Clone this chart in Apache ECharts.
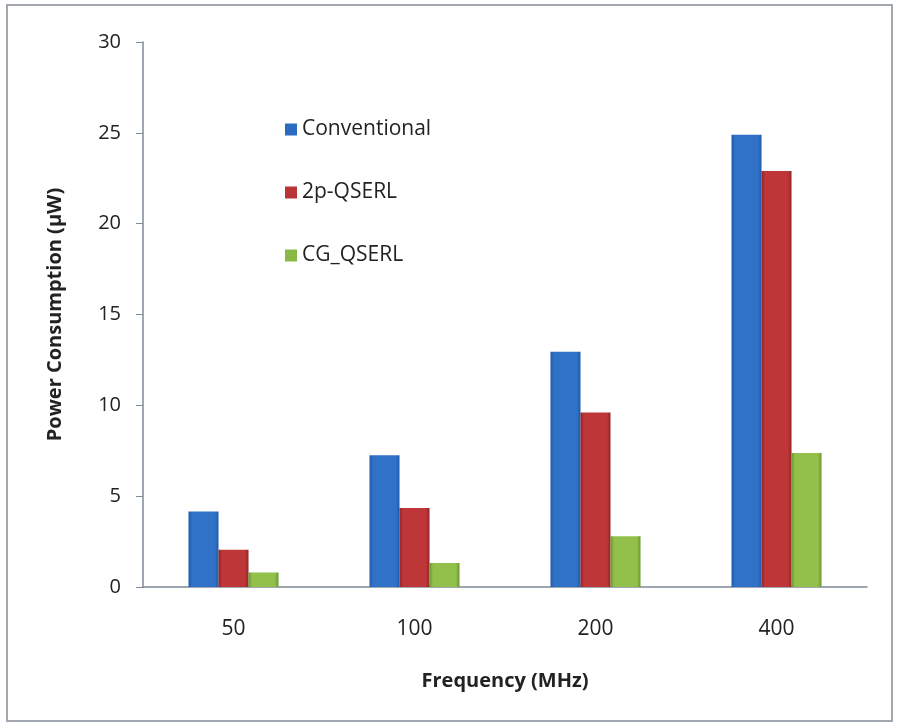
<!DOCTYPE html>
<html>
<head>
<meta charset="utf-8">
<script src="https://cdn.jsdelivr.net/npm/echarts@6/dist/echarts.min.js"></script>
<style>
  html, body { margin: 0; padding: 0; background: #fff; }
  #chartMain { width: 899px; height: 728px; }
</style>
</head>
<body>
<div id="chartMain"></div>
<script>
var categories = ['50', '100', '200', '400'];
var seriesNames = ['Conventional', '2p-QSERL', 'CG_QSERL'];
var conventional = [4.15, 7.25, 12.95, 24.9];
var qserl2p = [2.05, 4.35, 9.6, 22.9];
var cgQserl = [0.8, 1.32, 2.8, 7.37];
var yTicks = [0, 5, 10, 15, 20, 25, 30];

var font = '"Open Sans", "Liberation Sans", sans-serif';

// soft horizontal shading, edges a bit darker
function barColor(edge, mid) {
    return new echarts.graphic.LinearGradient(0, 0, 1, 0, [
        { offset: 0, color: edge },
        { offset: 0.12, color: mid },
        { offset: 0.88, color: mid },
        { offset: 1, color: edge }
    ]);
}

var colors = [
    barColor('#1f5aa8', '#2f72c8'),
    barColor('#8f2426', '#bf3638'),
    barColor('#6a962c', '#92c04a')
];
var legendColors = ['#2c6cc0', '#b83436', '#8ab844'];

function makeSeries(name, data, idx) {
    return {
        name: name,
        type: 'bar',
        data: data,
        barWidth: 30,
        barGap: '0%',
        itemStyle: { color: colors[idx] },
        emphasis: { disabled: true }
    };
}

var myChart = echarts.init(document.getElementById('chartMain'));
var option = {
    animation: false,
    color: legendColors,
    graphic: [{
        type: 'rect',
        shape: { x: 7, y: 5, width: 885, height: 716 },
        style: { fill: 'none', stroke: '#a3a8b0', lineWidth: 2 },
        silent: true
    }],
    legend: {
        orient: 'vertical',
        left: 280,
        top: 114,
        itemWidth: 12,
        itemHeight: 12,
        itemGap: 42,
        icon: 'rect',
        textStyle: { fontFamily: font, fontSize: 21, color: '#222' },
        data: seriesNames.map(function (n, i) {
            return { name: n, itemStyle: { color: legendColors[i] } };
        })
    },
    grid: { left: 143, right: 32, top: 42, bottom: 141 },
    xAxis: {
        type: 'category',
        data: categories,
        name: 'Frequency (MHz)',
        nameLocation: 'middle',
        nameGap: 84,
        nameTextStyle: { fontFamily: font, fontSize: 20, fontWeight: 'bold', color: '#222' },
        axisLine: { lineStyle: { color: '#7f8a98', width: 1.5 } },
        axisTick: { show: false },
        axisLabel: { fontFamily: font, fontSize: 21, color: '#222', margin: 32 }
    },
    yAxis: {
        type: 'value',
        min: yTicks[0],
        max: yTicks[yTicks.length - 1],
        interval: 5,
        name: 'Power Consumption (\u00b5W)',
        nameLocation: 'middle',
        nameGap: 78,
        nameTextStyle: { fontFamily: font, fontSize: 20, fontWeight: 'bold', color: '#222' },
        axisLine: { show: true, lineStyle: { color: '#7f8a98', width: 1.5 } },
        axisTick: { show: true, inside: false, length: 7, lineStyle: { color: '#7f8a98' } },
        splitLine: { show: false },
        axisLabel: { fontFamily: font, fontSize: 20, color: '#222', margin: 22 }
    },
    series: [
        makeSeries(seriesNames[0], conventional, 0),
        makeSeries(seriesNames[1], qserl2p, 1),
        makeSeries(seriesNames[2], cgQserl, 2)
    ]
};
myChart.setOption(option);
</script>
</body>
</html>
